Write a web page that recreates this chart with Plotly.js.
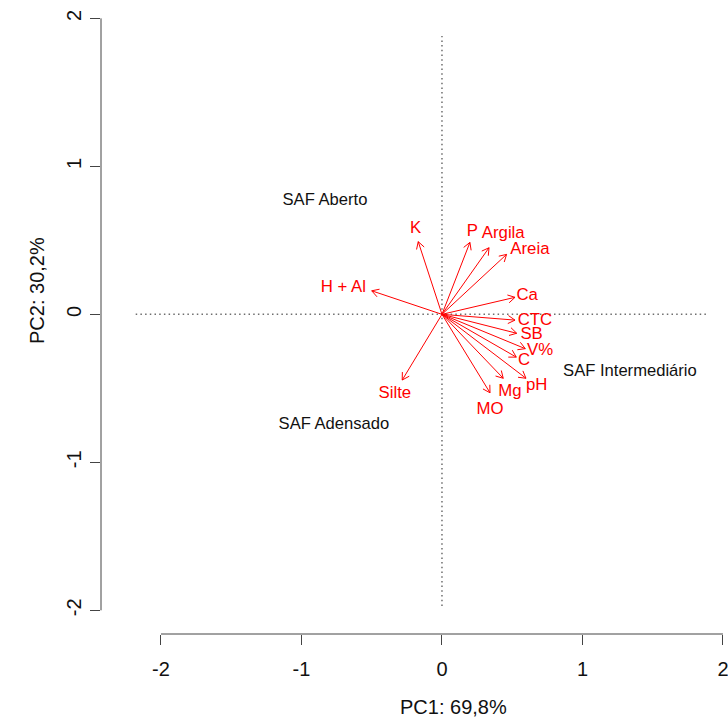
<!DOCTYPE html>
<html>
<head>
<meta charset="utf-8">
<script src="https://cdn.plot.ly/plotly-3.0.1.min.js"></script>
<style>
  html, body { margin: 0; padding: 0; background: #fff; }
  #chart { width: 728px; height: 720px; }
</style>
</head>
<body>
<div id="chart"></div>
<script>
// ---- data ----
const tickValues = [-2, -1, 0, 1, 2];
const tickLabels = ['-2', '-1', '0', '1', '2'];

const variables = ['K', 'H + Al', 'P', 'Argila', 'Areia', 'Ca', 'CTC', 'SB', 'V%', 'C', 'pH', 'Mg', 'MO', 'Silte'];
const loadPC1 = [-0.169, -0.500, 0.199, 0.335, 0.460, 0.520, 0.520, 0.532, 0.593, 0.529, 0.598, 0.436, 0.342, -0.283];
const loadPC2 = [0.491, 0.159, 0.486, 0.450, 0.405, 0.115, -0.039, -0.128, -0.232, -0.289, -0.432, -0.432, -0.530, -0.444];
const labelPC1 = [-0.187, -0.702, 0.216, 0.436, 0.626, 0.607, 0.662, 0.638, 0.698, 0.584, 0.674, 0.484, 0.342, -0.335];
const labelPC2 = [0.581, 0.176, 0.558, 0.543, 0.434, 0.126, -0.043, -0.140, -0.245, -0.314, -0.484, -0.523, -0.647, -0.534];

const groups = ['SAF Aberto', 'SAF Adensado', 'SAF Intermediário'];
const groupPC1 = [-0.833, -0.769, 1.338];
const groupPC2 = [0.766, -0.748, -0.390];

const hRefX = [-2.18, 1.89];   // horizontal dotted reference line extent (y = 0)
const vRefY = [-1.97, 1.88];   // vertical dotted reference line extent (x = 0)

const xTitle = 'PC1: 69,8%';
const yTitle = 'PC2: 30,2%';

// ---- layout geometry ----
const W = 728, H = 720;
const margin = {l: 101, r: 0, t: 0, b: 86};
const xRange = [-2.427, 2.036];
const yRange = [-2.160, 2.124];
const plotW = W - margin.l - margin.r, plotH = H - margin.t - margin.b;
const kx = plotW / (xRange[1] - xRange[0]);
const ky = plotH / (yRange[1] - yRange[0]);

const RED = '#ff0000';
const FONT = 'Liberation Sans, Arial, Helvetica, sans-serif';

// arrows (shafts + open heads) built from the loadings
const ax = [], ay = [];
const headLen = 8, headAng = Math.PI / 6;
for (let i = 0; i < variables.length; i++) {
  const x = loadPC1[i], y = loadPC2[i];
  ax.push(0, x, null);
  ay.push(0, y, null);
  const px = x * kx, py = y * ky;
  const len = Math.hypot(px, py);
  const ux = px / len, uy = py / len;
  for (const s of [1, -1]) {
    const c = Math.cos(s * headAng), sn = Math.sin(s * headAng);
    const rx = ux * c - uy * sn, ry = ux * sn + uy * c;
    ax.push(x, x - headLen * rx / kx, null);
    ay.push(y, y - headLen * ry / ky, null);
  }
}

const traces = [
  {x: hRefX, y: [0, 0], mode: 'lines', line: {color: '#6e6e6e', width: 1.5, dash: '1.5px,3.2px'}, hoverinfo: 'skip', showlegend: false},
  {x: [0, 0], y: vRefY, mode: 'lines', line: {color: '#6e6e6e', width: 1.5, dash: '1.5px,3.2px'}, hoverinfo: 'skip', showlegend: false},
  {x: ax, y: ay, mode: 'lines', line: {color: RED, width: 1}, hoverinfo: 'skip', showlegend: false},
  {x: labelPC1, y: labelPC2, text: variables, mode: 'text', textposition: 'middle center',
   textfont: {family: FONT, size: 16.8, color: RED}, showlegend: false, cliponaxis: false},
  {x: groupPC1, y: groupPC2, text: groups, mode: 'text', textposition: 'middle center',
   textfont: {family: FONT, size: 16.6, color: '#111111'}, showlegend: false, cliponaxis: false}
];

const axisCommon = {
  tickmode: 'array', tickvals: tickValues, ticktext: tickLabels,
  ticks: 'outside', ticklen: 10, tickwidth: 1, tickcolor: '#444',
  showline: false, zeroline: false, showgrid: false,
  tickfont: {family: FONT, size: 20, color: '#111'},
  ticklabeloverflow: 'allow',
  fixedrange: true
};

const layout = {
  width: W, height: H, margin: margin,
  paper_bgcolor: '#fff', plot_bgcolor: '#fff',
  xaxis: Object.assign({}, axisCommon, {range: xRange, ticklabelstandoff: 7}),
  yaxis: Object.assign({}, axisCommon, {range: yRange, tickangle: -90, ticklabelstandoff: 1}),
  shapes: [
    {type: 'line', xref: 'x', yref: 'paper', x0: Math.min(...tickValues), x1: Math.max(...tickValues), y0: 0, y1: 0,
     line: {color: '#444', width: 1}},
    {type: 'line', xref: 'paper', yref: 'y', x0: 0, x1: 0, y0: Math.min(...tickValues), y1: Math.max(...tickValues),
     line: {color: '#444', width: 1}}
  ],
  annotations: [
    {text: xTitle, xref: 'paper', yref: 'paper', x: (453 - margin.l) / plotW, y: -(707 - (H - margin.b)) / plotH,
     xanchor: 'center', yanchor: 'middle', showarrow: false, font: {family: FONT, size: 20, color: '#111'}},
    {text: yTitle, xref: 'paper', yref: 'paper', x: (37 - margin.l) / plotW, y: ((H - margin.b) - 291) / plotH,
     xanchor: 'center', yanchor: 'middle', textangle: -90, showarrow: false, font: {family: FONT, size: 20, color: '#111'}}
  ],
  showlegend: false
};

Plotly.newPlot('chart', traces, layout, {displayModeBar: false, staticPlot: true});
</script>
</body>
</html>
